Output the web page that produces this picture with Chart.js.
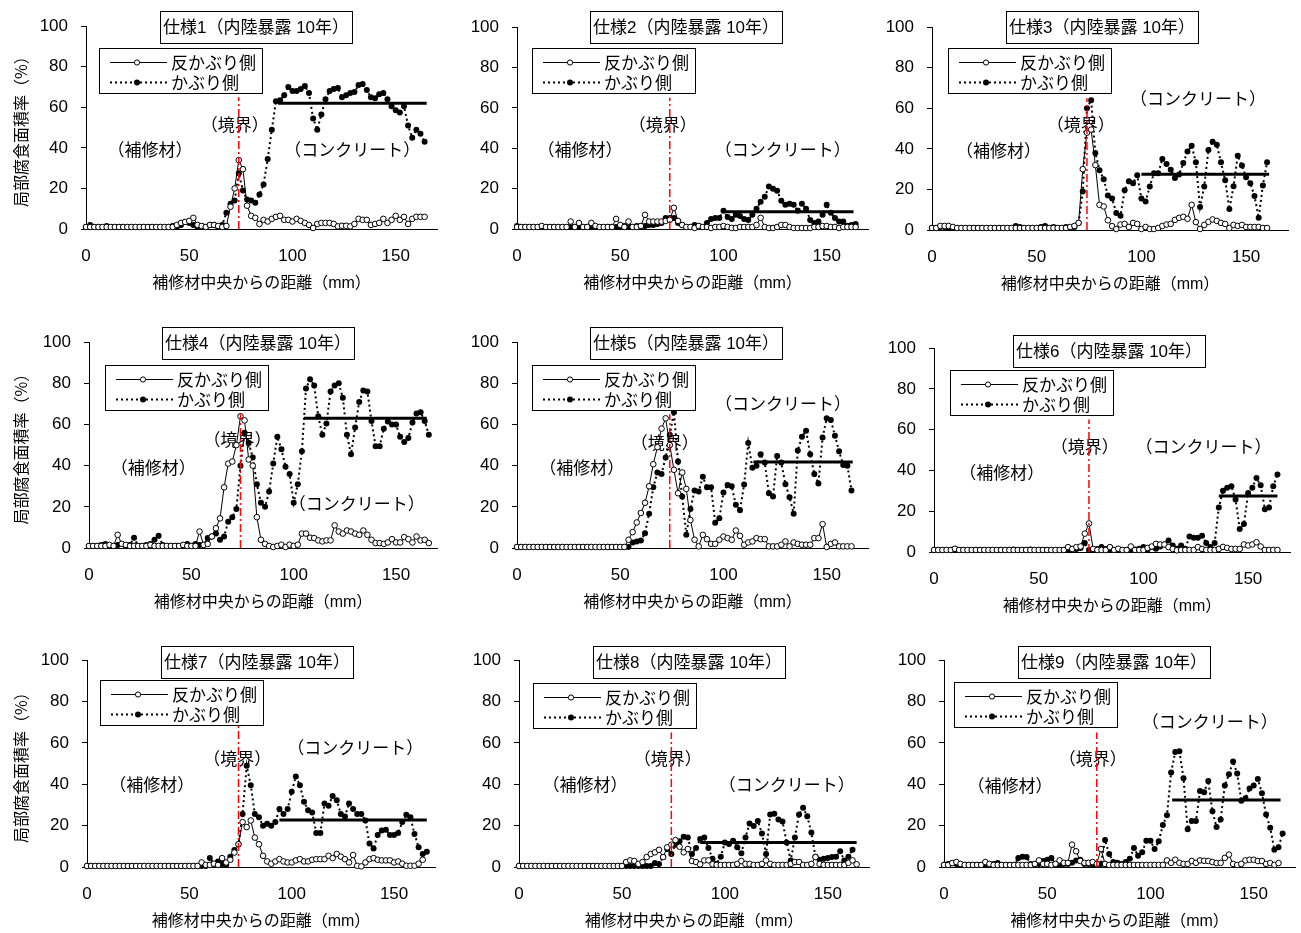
<!DOCTYPE html>
<html><head><meta charset="utf-8">
<script src="https://cdn.jsdelivr.net/npm/chart.js@4"></script>
<style>
html,body{margin:0;padding:0;background:#fff;}
body{width:1301px;height:933px;position:relative;overflow:hidden;}
canvas{position:absolute;}
</style></head><body>
<script>
// ---------------- data ----------------
const distance = [0,2,4,6,8,10,12,14,16,18,20,22,24,26,28,30,32,34,36,38,40,42,44,46,48,50,52,54,56,58,60,62,64,66,68,70,72,74,76,78,80,82,84,86,88,90,92,94,96,98,100,102,104,106,108,110,112,114,116,118,120,122,124,126,128,130,132,134,136,138,140,142,144,146,148,150,152,154,156,158,160,162,164,166];
const xTicks = [0,50,100,150];
const yTicks = [0,20,40,60,80,100];
const seriesNames = ['反かぶり側','かぶり側'];
const panelTitles = ['仕様1（内陸暴露 10年）','仕様2（内陸暴露 10年）','仕様3（内陸暴露 10年）','仕様4（内陸暴露 10年）','仕様5（内陸暴露 10年）','仕様6（内陸暴露 10年）','仕様7（内陸暴露 10年）','仕様8（内陸暴露 10年）','仕様9（内陸暴露 10年）'];
const regionNames = ['（補修材）','（境界）','（コンクリート）'];

const open1 = [1,1,1,1,1,1,1,1,1,1,1,1,1,1,1,1,1,1,1,1,1,1,2,3,3.5,4,5.5,2,1.5,1,2,2,1.5,1,1.5,11,20,34,29.5,11.5,6.5,5.5,2.5,4.5,3.7,5,6,6.5,4.5,4.5,3.7,5,4,3,2,0.5,2.5,3,3,3,2.5,1.3,1.6,1.6,1.3,2.5,5,4.5,4.5,2,2.5,3,5,3,4.5,6.5,4.5,6,2.5,5,6,6,6];
const cover1 = [1,2,1,1,1,1.5,1,1,1,1,1,1,1,1,1,1,1,1,1,1,1,1.5,1,2,3.5,3,2,1,1.5,1,2,2,1,2,8,12.5,14,27.5,19,14.5,14,13,17,22,34.5,49,63,63.5,66,70,68,68,69,70.5,67,54.5,49,56.5,64,68,69,69.5,65,66,67,67.5,71,71.5,68.5,65,64.5,66.5,67,64,60.5,58.5,57.5,60.5,51,45,49,47,43];

const open2 = [1,1,1,1,1,1,1.5,1,1,1,1,1,1,3.7,1,3,1,1,3,1.5,1,1,1,1,5,2,1,3.7,1,1,1.5,7,3.7,3.7,3.7,3.7,4,4.5,10.5,4,2,1,1,0.5,1.5,1,1,0.5,1,1,1.5,1,0.5,0.5,1,1,1,1,2,5.5,1,0.5,0.5,1,2,2,1,0.5,0.5,0.5,0.5,0.5,1,1,1.5,1.5,1,1,0.5,1,1,1,1];
const cover2 = [1.5,1,1,1,1,1,1,1,1,1,1,1,1,1,1,1,1,1,1,1,1,1,1,1,1,1,1.5,1,1,1.5,1.5,1.5,2,2,2.5,3,5.5,5.5,5.5,3,2,1,1,2,1.5,1,3,5,5.5,5.5,9,6,5,7,6.5,5,4.5,7,10,13.5,16,21,20,19,14,12,12.5,12,9,12.5,10,4.5,3,3.7,7,12,8,5.4,3.7,3.7,1.6,2,2.5];

const open3 = [1,1,2,2,2,1.5,1,1,1,1,1,1,1,1,1,1,1,1,1,1,1,1,1,1,1,1,1,1,1,1,1,1,1,1.5,2,3.5,30,48,49.5,32,12.4,11.6,4.8,1.9,0.5,2.7,3,1.5,3.5,3,0.5,1.5,0.5,0.5,1,2,2.7,3,5,6,6.5,5.5,12.4,3.9,0.5,2.5,4,5.2,4.5,3.5,3,1,2.5,2,2.5,1.5,1.5,1.5,1.5,1,1];
const cover3 = [1,1,1.5,1.5,1,1,1,1,1,1,1,1,1,1,1,1,1,1,1,1,2,1.5,1,1,1,1,1.5,2,1,1.5,1,1,1.5,1,1.5,3.5,19,60,64,38,29.5,25,17,15.5,8.4,7,19.6,24,23,27,15.5,14,21.5,28,28,35,32.5,29.7,25.6,27.4,33,38.7,41.5,33.4,11.3,21.5,39.4,43.5,42,33.4,24.5,10.3,21.6,36.6,31.8,26,23,16.8,6,22,33.4];

const open4 = [1,1,1,1,1,1.5,1,6.4,2,1.5,1,1,1,1,1,1.5,1,1,1,1,1,1,1,1.5,1,1,1,8,1.5,2,5.6,9.6,14.4,29.5,41,42,50,64,62,43,40,15,4,2,1,0.5,1,1.6,0.5,1.6,1,1.6,7,7,5,4.8,3.7,3.2,3.7,3.7,11,8,7,8.5,8,7,6.4,8.5,6.4,4,2.4,2.4,2,2.7,4.3,2.7,2.7,5.3,4.3,2.7,5.6,3.7,4,2.4];
const cover4 = [1,1,1,1.5,2,1,1,1.5,2,1,1.5,5,1,1,1.5,2,4,6,1.5,1,1,1,1,1.5,2,1,2,1.5,1.5,4.8,5.6,7,4,5.6,12.8,15,19,40,56,51,44,31,22,20,27.5,41,54,48,39.5,36,22,31,47,77.5,82,79,64,55,60.5,76,79,80,73,55,45.5,58.5,71,76.5,76,61.7,49.5,49.5,58,61.5,60,60,54,51.5,53.5,61,65.4,66,61.7,55];

const open5 = [0.5,0.5,0.5,0.5,0.5,0.5,0.5,0.5,0.5,0.5,0.5,0.5,0.5,0.5,0.5,0.5,0.5,0.5,0.5,0.5,0.5,0.5,0.5,0.5,0.5,0.5,0.5,4,7.7,12.4,17,22,30,40.7,49,58,63,50,38,26.6,36.7,28.7,13.6,4,0.8,6.4,4.3,2,2,4,5.6,4.8,4,8.5,5.9,1.6,2.7,3.2,4.8,4.3,4.3,0.8,0.8,0.8,1.6,3.2,0.8,2.7,2,1.6,1.6,1.6,4.8,4.8,11.6,0.5,2,2.7,0.8,0.8,0.8,0.8];
const cover5 = [0.5,0.5,0.5,0.5,0.5,0.5,0.5,0.5,0.5,0.5,0.5,0.5,0.5,0.5,0.5,0.5,0.5,0.5,0.5,0.5,0.5,0.5,0.5,0.5,0.5,0.5,0.5,0.5,2.7,3.2,3.7,7.2,16.7,29.5,36.7,36,44,55,66,42,25,6.4,19,28,27.5,34.6,29.5,29.5,12.3,14.4,27,30.6,30,21,18.3,30.8,51,39,40,45.5,41.5,26.6,25,44.7,41.5,31,24.7,16.7,47.4,54,57,45.5,36,31.4,53.7,63,62.2,54.5,47,40.3,40,28];

const open6 = [1,1,1,1,1,1.6,1,1,1,1,1,1,1,1,1,1,1,1,1,1,1,1,1,1,1,1,1,1,1,1,1,1,2.4,1.5,2.4,2.7,9,14,1.5,1,1,1,2.4,1,1.6,1,1,2.7,1,1,1,2,2.7,4,3.7,3.7,2.4,1.5,0.8,1,1,1,1,2.4,1.5,1,1,1,1.5,2.5,2,1.5,1.5,1.5,3.7,3.2,3.7,4.8,2.7,1,1,1,1];
const cover6 = [1,1,1,1,1,1.5,1,1,1,1,1,1,1,1,1,1,1,1,1,1.2,1,1,1,1.2,1,1,1,1,1,1,1,1,1,1.5,1.5,2,4.4,1,1,1.5,2.4,1.5,1,1,1,1,1,1,1.2,1.6,2.4,1.2,2.4,1.6,2.7,3.7,5.6,3.2,1.6,3.2,1.6,7.6,7,7,8,4.4,2.4,4.4,21.8,30,31.5,32.3,25.8,11.3,13.7,29,31.5,36.3,32.7,21,21.8,32.3,38];

const open7 = [0.5,0.5,0.5,0.5,0.5,0.5,0.5,0.5,0.5,0.5,0.5,0.5,0.5,0.5,0.5,0.5,0.5,0.5,0.5,0.5,0.5,0.5,0.5,0.5,0.5,0.5,0.5,0.5,2.2,1,1,1.6,1,4.3,2.2,3.5,7,11,21.7,19.3,22.5,14.2,11,5.4,2.7,1.6,2.7,3.8,2.7,2.2,2.2,3.2,3.8,2.7,2.7,3.5,3.8,3.8,3.8,5.4,4.3,6.3,5,3.8,2.2,5.8,0.6,0.3,2.2,3.8,4.3,3.5,3.2,3.2,3.2,2.2,2.7,1.6,0.6,0.6,0.6,1.6,3.5];
const cover7 = [0.5,0.5,0.5,0.5,0.5,0.5,0.5,0.5,0.5,0.5,0.5,0.5,0.5,0.5,0.5,0.5,0.5,0.5,0.5,0.5,0.5,0.5,0.5,0.5,0.5,0.5,0.5,0.5,0.5,0.5,4.3,1.5,2.7,1.5,1,5,8.2,11,25.6,49,39.5,25.6,24,20,20.9,20,21.7,28,25.6,28,36.4,43.8,39.5,31.6,27.5,26.4,16.5,16.5,30.7,29.6,34.3,32.3,25.6,24.4,30.7,28,25.6,25.6,22.5,11.4,9,15.5,17.7,18,15.5,15.5,16.5,21.7,25.3,24,16,9.5,6.3,7.4];

const open8 = [0.5,0.5,0.5,0.5,0.5,0.5,0.5,0.5,0.5,0.5,0.5,0.5,0.5,0.5,0.5,0.5,0.5,0.5,0.5,0.5,0.5,0.5,0.5,0.5,0.5,0.5,2.4,3.2,2.9,1.5,2.4,4.8,6.3,7.1,8.3,4.8,9.5,10.8,13,9.8,7.1,8.7,2.9,2.4,1.3,3.2,3.2,1.3,1,1,1,1,1,1.5,2.9,1.5,1.5,1,1,1.5,3.2,1.5,1,1,1,1,1.5,2.4,2.4,1,1,1.5,4.8,1.5,1,1,1,1,1,1,2,3.2,1.3];
const cover8 = [0.5,0.5,0.5,0.5,0.5,0.5,0.5,0.5,0.5,0.5,0.5,0.5,0.5,0.5,0.5,0.5,0.5,0.5,0.5,0.5,0.5,0.5,0.5,0.5,0.5,0.5,0.5,0.5,0.5,0.5,0.5,0.5,0.5,1.9,1.5,4.8,8.7,6.3,10.8,12.4,14.6,14.3,6.3,9.2,13.5,14.3,9.2,4,1.6,5,11.9,11.1,12.7,9.5,6.7,14.3,21,19.8,22.2,16.2,6.3,25.4,25.7,23,22,11.9,3.2,14.3,25.4,28.6,24.6,16.7,5,3.5,4,4.4,4.8,5,7.6,3.2,5,8.3];

const open9 = [1,1,1.9,2.4,1.5,1,1,1,1,1,2.4,1.5,1,1,1,1,1,1,1,1,1,1,1.5,3.2,1.5,1.5,1,1.5,3.2,2,2,10.8,7.6,2.9,2,2,2.4,1.5,8.7,1.5,1,1,1,1,1,1,1,1,1,1,1,1,1,1,3.2,2,3.5,2,1.5,1.5,2.9,2,3.2,3,2.9,2.4,1.9,2,4.4,6,1.5,1,1.5,3.2,3.5,3.5,2.9,2.9,1.5,1.9,1,1.9];
const cover9 = [1,1.5,1.9,1.5,1,1,1,1,1,1,1,1,1.5,1.9,1,1,1,1,4.4,5,4.8,1.5,1.5,1.5,2.9,3.5,4.4,1.5,1,1.5,1.5,2,3.2,3.5,1.5,1.5,1.2,1,1.5,13,6.3,2.4,2,1.5,2.4,4,9.2,5.5,7.1,12.7,12.7,8.7,12.4,20.3,25,45.7,55.6,56,42.9,18.3,22.2,22.2,36.8,36.2,41.6,27,19.4,23,39.4,44.8,51,45.2,32,33.3,38,39.4,42.5,35.7,25.4,19,8.3,9.5,16.2];

// mean level of the concrete side (start, end, level)
const meanStart = [93,101,100,105,114.5,136,94,88,110.5];
const meanEnd   = [165,163,161,165,162.6,164,166,164,163];
const meanLevel = [62,8.5,27.5,63,41.8,27.5,22.7,11.8,32.4];
const boundaryX = 74;
const boundaryTop = [65,65,65,65,65,65,78,65,65];

const openSeries  = [open1,open2,open3,open4,open5,open6,open7,open8,open9];
const coverSeries = [cover1,cover2,cover3,cover4,cover5,cover6,cover7,cover8,cover9];

// ---------------- layout (pixels / label anchor positions) ----------------
const FONT = "'Liberation Sans', 'Noto Sans CJK JP', sans-serif";
const CJK  = "'Noto Sans CJK JP', 'Liberation Sans', sans-serif";
const layout = [
  {ax:86,  axEnd:437,  top:23,  bottom:229, col:0, tdx:170, tdy:1,   ldx:13, ldy:22, notes:[[31,39],[72,51.5],[129,39]]},
  {ax:517, axEnd:868,  top:24,  bottom:229, col:1, tdx:169, tdy:0,   ldx:15, ldy:21, notes:[[30.5,39.5],[70.6,52],[128.7,39.5]]},
  {ax:932, axEnd:1288, top:24,  bottom:230, col:2, tdx:170, tdy:0,   ldx:16, ldy:21, notes:[[31.7,39],[71,52],[127,65]]},
  {ax:89,  axEnd:437,  top:339, bottom:548, col:0, tdx:169, tdy:1,   ldx:16, ldy:23, notes:[[31.4,39],[72.5,52.5],[130.8,21.7]]},
  {ax:517, axEnd:868,  top:339, bottom:548, col:1, tdx:169, tdy:1,   ldx:15, ldy:23, notes:[[31.3,39],[71.6,51],[128.8,70.3]]},
  {ax:934, axEnd:1290, top:345, bottom:552, col:2, tdx:175, tdy:2.5, ldx:16, ldy:22, notes:[[32.3,38.8],[72,51.7],[128.7,51.7]]},
  {ax:87,  axEnd:435,  top:657, bottom:867, col:0, tdx:170, tdy:2,   ldx:13, ldy:20, notes:[[31.6,39.9],[73.4,52.5],[131,57.6]]},
  {ax:519, axEnd:869,  top:657, bottom:867, col:1, tdx:170, tdy:2,   ldx:14, ldy:23, notes:[[32,40],[72.2,52.5],[130,40]]},
  {ax:944, axEnd:1295, top:657, bottom:867, col:2, tdx:170, tdy:2,   ldx:10, ldy:22, notes:[[32,39.4],[72,52.5],[128.7,70.5]]}
];
const PT = 20, PR = 12, XH = 64;

Chart.defaults.font.family = FONT;
Chart.defaults.color = '#000';

function toPoints(arr){ return arr.map((v,i)=>({x: distance[i], y: v})); }

function overlay(idx, L){
  return {
    id: 'overlay'+idx,
    beforeDatasetsDraw(chart){
      const {ctx, scales:{x, y}} = chart;
      ctx.save();
      ctx.fillStyle = '#000';
      ctx.font = '17px ' + CJK;
      ctx.textAlign = 'center'; ctx.textBaseline = 'middle';
      L.notes.forEach((n,k)=> ctx.fillText(regionNames[k], x.getPixelForValue(n[0]), y.getPixelForValue(n[1])));
      ctx.restore();
    },
    afterDatasetsDraw(chart){
      const {ctx, chartArea:a} = chart;
      ctx.save();
      // title box
      const tw = 192, th = 32;
      const tl = Math.round(a.left + L.tdx - tw/2), tt = Math.round(a.top + L.tdy - th/2);
      ctx.fillStyle = '#fff'; ctx.fillRect(tl, tt, tw, th);
      ctx.strokeStyle = '#000'; ctx.lineWidth = 1; ctx.setLineDash([]);
      ctx.strokeRect(tl+0.5, tt+0.5, tw, th);
      ctx.fillStyle = '#000'; ctx.font = '17px ' + FONT;
      ctx.textAlign = 'center'; ctx.textBaseline = 'middle';
      ctx.fillText(panelTitles[idx], tl + tw/2, tt + th/2 + 1);
      // legend box
      const lw = 163, lh = 45;
      const lx = Math.round(a.left + L.ldx), ly = Math.round(a.top + L.ldy);
      ctx.fillStyle = '#fff'; ctx.fillRect(lx, ly, lw, lh);
      ctx.strokeRect(lx+0.5, ly+0.5, lw, lh);
      const r1 = ly + 14.5, r2 = ly + 34.5;
      ctx.strokeStyle = '#000';
      ctx.lineWidth = 1;
      ctx.beginPath(); ctx.moveTo(lx+11, r1); ctx.lineTo(lx+68, r1); ctx.stroke();
      ctx.beginPath(); ctx.arc(lx+38, r1, 2.6, 0, Math.PI*2); ctx.fillStyle='#fff'; ctx.fill(); ctx.stroke();
      ctx.setLineDash([2,3]); ctx.lineWidth = 2;
      ctx.beginPath(); ctx.moveTo(lx+11, r2); ctx.lineTo(lx+68, r2); ctx.stroke();
      ctx.setLineDash([]);
      ctx.beginPath(); ctx.arc(lx+38, r2, 3, 0, Math.PI*2); ctx.fillStyle='#000'; ctx.fill();
      ctx.font = '17px ' + CJK; ctx.textAlign = 'left'; ctx.textBaseline = 'middle';
      ctx.fillText(seriesNames[0], lx+72, r1);
      ctx.fillText(seriesNames[1], lx+72, r2);
      ctx.restore();
    }
  };
}

layout.forEach((L, idx) => {
  const YW = L.col === 0 ? L.ax : 60;
  const W = (L.axEnd - L.ax) + YW + PR;
  const H = (L.bottom - L.top) + PT + XH;
  const cv = document.createElement('canvas');
  cv.width = W; cv.height = H;
  cv.style.left = (L.ax - YW) + 'px';
  cv.style.top = (L.top - PT) + 'px';
  cv.style.width = W + 'px'; cv.style.height = H + 'px';
  document.body.appendChild(cv);

  new Chart(cv, {
    type: 'line',
    data: {
      datasets: [
        {label: '境界', data: [{x: boundaryX, y: 0}, {x: boundaryX, y: boundaryTop[idx]}],
         borderColor: '#ff0000', borderWidth: 1.5, borderDash: [8,3,2,3], pointRadius: 0, order: 0, clip: false},
        {label: '平均', data: [{x: meanStart[idx], y: meanLevel[idx]}, {x: meanEnd[idx], y: meanLevel[idx]}],
         borderColor: '#000', borderWidth: 3, pointRadius: 0, order: 1, clip: false},
        {label: seriesNames[0], data: toPoints(openSeries[idx]),
         borderColor: '#000', borderWidth: 1, pointStyle: 'circle', pointRadius: 2.8,
         pointBackgroundColor: '#fff', pointBorderColor: '#000', pointBorderWidth: 1, order: 2, clip: false},
        {label: seriesNames[1], data: toPoints(coverSeries[idx]),
         borderColor: '#000', borderWidth: 2, borderDash: [2,3], pointStyle: 'circle', pointRadius: 3,
         pointBackgroundColor: '#000', pointBorderColor: '#000', pointBorderWidth: 0, order: 3, clip: false}
      ]
    },
    options: {
      responsive: false, animation: false, devicePixelRatio: 1,
      layout: {padding: {top: PT, right: PR, left: 0, bottom: 0}},
      plugins: {legend: {display: false}, tooltip: {enabled: false}},
      elements: {line: {tension: 0}},
      scales: {
        x: {
          type: 'linear', min: 0, max: 170,
          afterFit: s => { s.height = XH; },
          afterBuildTicks: s => { s.ticks = xTicks.map(v => ({value: v})); },
          ticks: {padding: 17, maxRotation: 0, includeBounds: false, font: {size: 17, family: FONT}, color: '#000'},
          grid: {display: true, drawOnChartArea: false, drawTicks: false, color: '#000'},
          border: {display: true, color: '#000', width: 1},
          title: {display: true, text: '補修材中央からの距離（mm）', font: {size: 16, family: FONT}, color: '#000', padding: {top: 0, bottom: 0}}
        },
        y: {
          type: 'linear', min: 0, max: 100,
          afterFit: s => { s.width = YW; },
          afterBuildTicks: s => { s.ticks = yTicks.map(v => ({value: v})); },
          ticks: {padding: 13, font: {size: 17, family: FONT}, color: '#000'},
          grid: {display: true, drawOnChartArea: false, drawTicks: true, tickLength: 5, color: '#000'},
          border: {display: true, color: '#000', width: 1},
          title: {display: L.col === 0, text: '局部腐食面積率（%）', font: {size: 16, family: CJK}, color: '#000', padding: {top: 11, bottom: 0}}
        }
      }
    },
    plugins: [overlay(idx, L)]
  });
});
</script>
</body></html>
